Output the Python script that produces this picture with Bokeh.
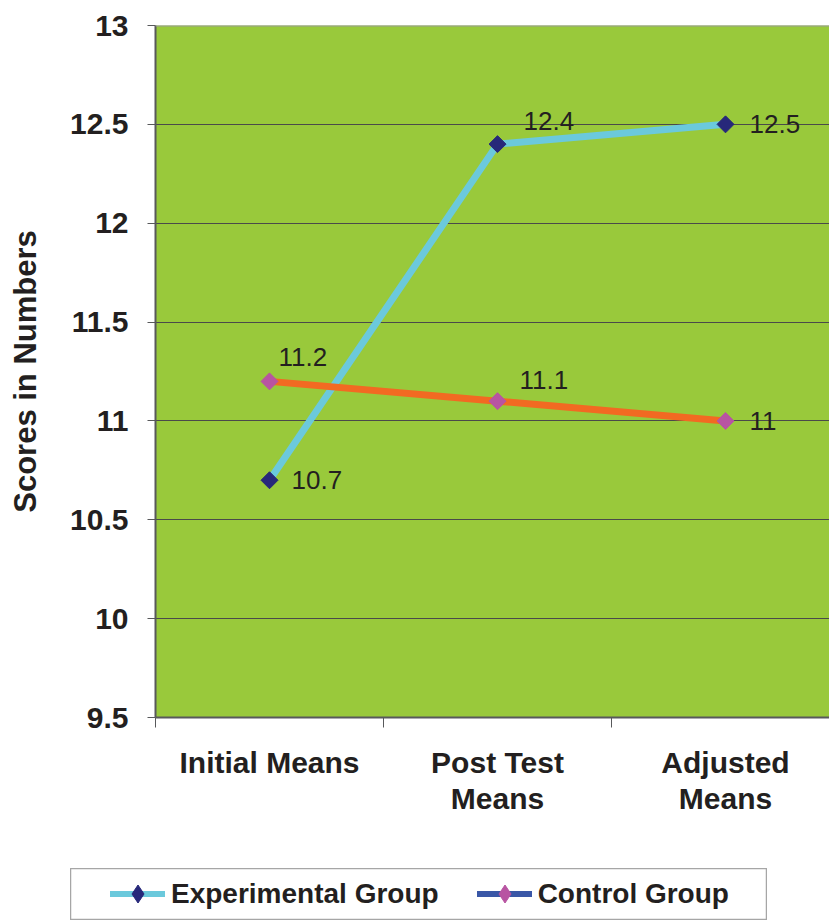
from bokeh.plotting import figure
from bokeh.layouts import column, row
from bokeh.models import (Range1d, FixedTicker, NumeralTickFormatter, Legend, LegendItem,
                          ColumnDataSource, Span, Spacer)
from bokeh.core.properties import value
from bokeh.embed import file_html
from bokeh.resources import INLINE

# --- data -----------------------------------------------------------------
categories = ["Initial Means", "Post Test\nMeans", "Adjusted\nMeans"]
experimental = [10.7, 12.4, 12.5]
control = [11.2, 11.1, 11.0]
y_ticks = [9.5, 10, 10.5, 11, 11.5, 12, 12.5, 13]

# per-point placement of the value labels (pixels, y grows downward)
exp_label_dx = [22, 26, 24]
exp_label_dy = [0, -23, 0]
ctl_label_dx = [9, 22, 24]
ctl_label_dy = [-24, -21, 0]

# categories sit at the centres of unit-wide slots
xs = [i + 0.5 for i in range(len(categories))]

BG = "#99c93b"
TXT = "#231f20"
AXIS = "#58595b"
EXP_LINE, EXP_MARK = "#6bc9dc", "#27287a"
CTL_LINE, CTL_MARK, CTL_KEY = "#f26a22", "#b854a2", "#3a57a7"

p = figure(width=829, height=868, output_backend="svg", toolbar_location=None,
           x_range=Range1d(0, 2.956), y_range=Range1d(9.5, 13),
           min_border_left=155, min_border_right=0, min_border_top=25,
           min_border_bottom=151)

p.background_fill_color = BG
p.border_fill_color = "white"
p.outline_line_color = None

# grid
p.xgrid.visible = False
p.ygrid.ticker = FixedTicker(ticks=y_ticks[1:-1])
p.ygrid.grid_line_color = "#4a4a4a"
p.ygrid.grid_line_width = 1
p.add_layout(Span(location=y_ticks[-1], dimension="width",
                  line_color="#9a9a9a", line_width=2))

# y axis
ya = p.yaxis[0]
ya.ticker = FixedTicker(ticks=y_ticks)
ya.formatter = NumeralTickFormatter(format="0.[0]")
ya.axis_line_color = AXIS
ya.axis_line_width = 2
ya.major_tick_line_color = AXIS
ya.major_tick_line_width = 1
ya.major_tick_out = 8
ya.major_tick_in = 0
ya.minor_tick_line_color = None
ya.major_label_standoff = 19
ya.major_label_text_font = "Liberation Sans"
ya.major_label_text_font_style = "bold"
ya.major_label_text_font_size = "30px"
ya.major_label_text_color = TXT
ya.axis_label = "Scores in Numbers"
ya.axis_label_text_font = "Liberation Sans"
ya.axis_label_text_font_style = "bold"
ya.axis_label_text_font_size = "31px"
ya.axis_label_text_color = TXT
ya.axis_label_standoff = 24

# x axis: labels at slot centres, tick marks at slot boundaries
xa = p.xaxis[0]
xa.ticker = FixedTicker(ticks=xs, minor_ticks=[0, 1, 2, 3])
xa.major_label_overrides = {x: c for x, c in zip(xs, categories)}
xa.axis_line_color = AXIS
xa.axis_line_width = 2
xa.major_tick_line_color = None
xa.major_tick_out = 0
xa.major_tick_in = 0
xa.minor_tick_line_color = AXIS
xa.minor_tick_line_width = 1
xa.minor_tick_out = 10
xa.minor_tick_in = 0
xa.major_label_standoff = 18
xa.major_label_text_font = "Liberation Sans"
xa.major_label_text_font_style = "bold"
xa.major_label_text_font_size = "30px"
xa.major_label_text_line_height = 1.1
xa.major_label_text_color = TXT

# --- series ---------------------------------------------------------------
exp_src = ColumnDataSource(dict(x=xs, y=experimental,
                                label=[f"{v:g}" for v in experimental],
                                dx=exp_label_dx, dy=exp_label_dy))
ctl_src = ColumnDataSource(dict(x=xs, y=control,
                                label=[f"{v:g}" for v in control],
                                dx=ctl_label_dx, dy=ctl_label_dy))

# the control line runs over the experimental one
p.line("x", "y", source=exp_src, line_color=EXP_LINE, line_width=7, line_cap="round")
p.line("x", "y", source=ctl_src, line_color=CTL_LINE, line_width=7)
p.scatter("x", "y", source=ctl_src, marker="square", angle=0.7854,
          size=12, fill_color=CTL_MARK, line_color=CTL_MARK)
p.scatter("x", "y", source=exp_src, marker="square", angle=0.7854,
          size=12, fill_color=EXP_MARK, line_color=EXP_MARK)

for src in (exp_src, ctl_src):
    p.text("x", "y", text="label", source=src, x_offset="dx", y_offset="dy",
           text_align="left", text_baseline="middle",
           text_font=value("Liberation Sans"), text_font_size="26px",
           text_color=TXT)

# --- legend panel ---------------------------------------------------------
# The key renderers carry the series data but lie outside this panel's
# 0..1 window, so only their legend swatches appear.
lg = figure(width=697, height=52, output_backend="svg", toolbar_location=None,
            x_range=Range1d(0, 1), y_range=Range1d(0, 1),
            x_axis_location=None, y_axis_location=None,
            min_border=0)
lg.grid.visible = False
lg.outline_line_color = "#a6a6a6"
lg.outline_line_width = 1.5
lg.background_fill_color = "white"

key_style = dict(line_width=6, line_cap="round")
exp_key_line = lg.line("x", "y", source=exp_src, line_color=EXP_LINE, **key_style)
exp_key_mark = lg.scatter("x", "y", source=exp_src, marker="diamond",
                          fill_color=EXP_MARK, line_color=EXP_MARK)
ctl_key_line = lg.line("x", "y", source=ctl_src, line_color=CTL_KEY, **key_style)
ctl_key_mark = lg.scatter("x", "y", source=ctl_src, marker="diamond",
                          fill_color=CTL_MARK, line_color=CTL_MARK)

legend = Legend(items=[
    LegendItem(label="Experimental Group", renderers=[exp_key_line, exp_key_mark]),
    LegendItem(label="Control Group", renderers=[ctl_key_line, ctl_key_mark]),
], location=(40, 4), orientation="horizontal")
legend.glyph_width = 55
legend.glyph_height = 45
legend.label_standoff = 6
legend.spacing = 38
legend.padding = 0
legend.margin = 0
legend.border_line_color = None
legend.background_fill_alpha = 0
legend.label_text_font = "Liberation Sans"
legend.label_text_font_style = "bold"
legend.label_text_font_size = "28px"
legend.label_text_color = TXT
lg.add_layout(legend, "center")

page = column(p, row(Spacer(width=70, height=52), lg, spacing=0), spacing=0)

open("out.html", "w").write(file_html(page, INLINE))
